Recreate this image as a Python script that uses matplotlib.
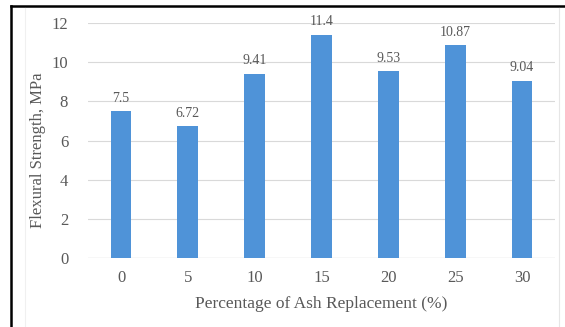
import matplotlib
matplotlib.use("Agg")
import matplotlib.pyplot as plt
from matplotlib.lines import Line2D
import matplotlib.transforms as mtransforms

categories = ["0", "5", "10", "15", "20", "25", "30"]
values = [7.5, 6.72, 9.41, 11.4, 9.53, 10.87, 9.04]
value_labels = ["7.5", "6.72", "9.41", "11.4", "9.53", "10.87", "9.04"]
yticks = [0, 2, 4, 6, 8, 10, 12]

W, H = 565, 327
fig = plt.figure(figsize=(W / 100, H / 100), dpi=100)
fig.patch.set_facecolor("white")
serif = ["Liberation Serif", "DejaVu Serif"]

left, right, top, bottom = 87.6, 555.4, 23, 258
ax = fig.add_axes([left / W, 1 - bottom / H, (right - left) / W, (bottom - top) / H])

x = list(range(len(categories)))
ax.bar(x, values, width=0.31, color="#4F93D8", zorder=3)
ax.set_xlim(-0.5, len(categories) - 0.5)
ax.set_ylim(0, 12)
ax.set_yticks(yticks)
ax.set_xticks(x)
ax.set_xticklabels(categories)
ax.grid(axis="y", color="#D9D9D9", linewidth=0.8, zorder=0)
ax.axhline(0, color="#D0D0D0", linewidth=0.9, zorder=1)
for s in ax.spines.values():
    s.set_visible(False)
ax.tick_params(length=0, labelsize=12, labelcolor="#595959")
ax.tick_params(axis="x", pad=9)
ax.tick_params(axis="y", pad=14)
for lab in ax.get_xticklabels() + ax.get_yticklabels():
    lab.set_family(serif)

for xi, v, t in zip(x, values, value_labels):
    ax.annotate(t, (xi, v), xytext=(0, 9.4), textcoords="offset points",
                ha="center", va="center", fontsize=10, color="#595959", family=serif)

ax.set_xlabel("Percentage of Ash Replacement (%)", fontsize=12.5, color="#595959",
              family=serif, labelpad=7)
ax.set_ylabel("Flexural Strength, MPa", fontsize=12, color="#595959", family=serif)
ax.yaxis.set_label_coords(46 / W, 0.457,
                          transform=mtransforms.blended_transform_factory(fig.transFigure, ax.transAxes))

# outer frame
fig.add_artist(Line2D([10.5 / W, 10.5 / W], [0, 1 - 6 / H], transform=fig.transFigure,
                      color="black", linewidth=1.8))
fig.add_artist(Line2D([10.5 / W, 1], [1 - 6 / H, 1 - 6 / H], transform=fig.transFigure,
                      color="black", linewidth=1.8))
fig.add_artist(Line2D([559 / W, 559 / W], [0, 1 - 8 / H], transform=fig.transFigure,
                      color="#E6E6E6", linewidth=0.8))
fig.add_artist(Line2D([25 / W, 25 / W], [0, 1 - 8 / H], transform=fig.transFigure,
                      color="#F0F0F0", linewidth=0.8))

fig.savefig("out.png", dpi=100)
